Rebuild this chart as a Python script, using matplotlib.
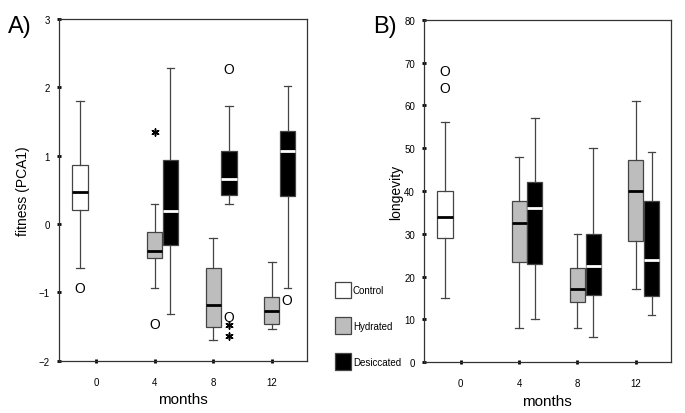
import numpy as np
from matplotlib import pyplot as plt

plt.rcParams['font.family'] = ['Liberation Sans', 'DejaVu Sans']

months = ['0', '4', '8', '12']
groups = ['Control', 'Hydrated', 'Desiccated']
colors = {'Control': 'white', 'Hydrated': '#bdbdbd', 'Desiccated': 'black'}
med_colors = {'Control': 'black', 'Hydrated': 'black', 'Desiccated': 'white'}
offsets = {'Control': -0.27, 'Hydrated': 0.0, 'Desiccated': 0.27}

# (group, month index, whislo, q1, median, q3, whishi)
fitness_boxes = [
    ('Control', 0, -0.65, 0.21, 0.47, 0.86, 1.80),
    ('Hydrated', 1, -0.93, -0.49, -0.40, -0.12, 0.30),
    ('Desiccated', 1, -1.31, -0.31, 0.19, 0.93, 2.29),
    ('Hydrated', 2, -1.70, -1.50, -1.19, -0.65, -0.21),
    ('Desiccated', 2, 0.30, 0.43, 0.66, 1.07, 1.73),
    ('Hydrated', 3, -1.53, -1.46, -1.27, -1.07, -0.56),
    ('Desiccated', 3, -0.93, 0.41, 1.07, 1.36, 2.02),
]
# (x position in month units, value, symbol)
fitness_outliers = [
    (-0.27, -0.93, 'O'),
    (1.0, 1.34, '*'),
    (1.0, -1.46, 'O'),
    (2.27, -1.36, 'O'),
    (2.27, -1.48, '*'),
    (2.27, -1.64, '*'),
    (2.27, 2.27, 'O'),
    (3.26, -1.11, 'O'),
]

longevity_boxes = [
    ('Control', 0, 15, 29, 34, 40, 56),
    ('Hydrated', 1, 8, 23.5, 32.5, 37.6, 48),
    ('Desiccated', 1, 10, 23, 36, 42, 57),
    ('Hydrated', 2, 8, 14, 17, 22, 30),
    ('Desiccated', 2, 6, 15.8, 22.5, 30, 50),
    ('Hydrated', 3, 17, 28.4, 40, 47.2, 61),
    ('Desiccated', 3, 11, 15.5, 24, 37.6, 49),
]
longevity_outliers = [
    (-0.27, 68, 'O'),
    (-0.27, 64, 'O'),
]


def draw_panel(ax, boxes, outliers):
    for g, m, lo, q1, med, q3, hi in boxes:
        st = [{'whislo': lo, 'q1': q1, 'med': med, 'q3': q3, 'whishi': hi, 'fliers': []}]
        ax.bxp(st, positions=[m + offsets[g]], widths=0.26, patch_artist=True,
               showfliers=False, manage_ticks=False,
               boxprops=dict(facecolor=colors[g], edgecolor='#444444', linewidth=0.9),
               medianprops=dict(color=med_colors[g], linewidth=2),
               whiskerprops=dict(color='#444444', linewidth=0.9),
               capprops=dict(color='#444444', linewidth=0.9),
               capwidths=0.13)
    for x, v, s in outliers:
        if s == 'O':
            ax.text(x, v, s, ha='center', va='center', fontsize=10, color='black')
        else:
            # asterisk marker
            ax.scatter([x], [v], marker=(6, 2, 0), s=26, linewidths=1.1,
                       color='black', zorder=5)
    ax.set_xlim(-0.63, 3.6)
    ax.set_xticks(range(4))
    ax.set_xticklabels(months)
    for sp in ax.spines.values():
        sp.set_color('#333333')
        sp.set_linewidth(0.9)
    ax.tick_params(direction='inout', length=3, width=2, labelsize=7, color='black')
    ax.tick_params(axis='x', pad=10)
    ax.tick_params(axis='y', pad=5)
    ax.set_xlabel('months', fontsize=11, labelpad=4)


fig = plt.figure(figsize=(6.85, 4.14), dpi=100)
axA = fig.add_axes([0.0861, 0.1263, 0.3620, 0.8254])
axB = fig.add_axes([0.619, 0.1225, 0.3602, 0.8275])

draw_panel(axA, fitness_boxes, fitness_outliers)
axA.set_ylim(-2, 3)
axA.set_yticks([-2, -1, 0, 1, 2, 3])
axA.set_ylabel('fitness (PCA1)', fontsize=10, labelpad=6)

draw_panel(axB, longevity_boxes, longevity_outliers)
axB.set_ylim(0, 80)
axB.set_yticks(range(0, 81, 10))
axB.set_ylabel('longevity', fontsize=10, labelpad=1)

fig.text(0.012, 0.935, 'A)', fontsize=17, va='center')
fig.text(0.545, 0.935, 'B)', fontsize=17, va='center')

# legend
leg_y = [0.297, 0.211, 0.124]
for g, y in zip(groups, leg_y):
    fig.patches.append(plt.Rectangle((0.489, y - 0.019), 0.023, 0.039,
                                     transform=fig.transFigure, facecolor=colors[g],
                                     edgecolor='#444444', linewidth=0.9))
    fig.text(0.515, y, g, fontsize=7, va='center')

fig.savefig('out.png', dpi=100)
